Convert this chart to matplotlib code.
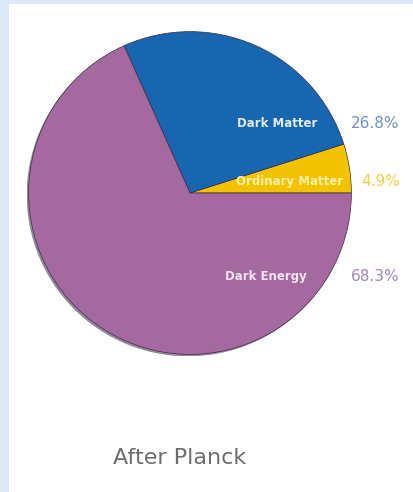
import matplotlib.pyplot as plt
from matplotlib.patches import Rectangle, Circle

# composition of the universe after Planck
components = ["Ordinary Matter", "Dark Matter", "Dark Energy"]
shares = [4.9, 26.8, 68.3]
slice_colors = ["#f3c300", "#1866b0", "#a4699f"]
name_colors = ["#fff2a8", "#e4ecfa", "#f6e4f2"]
pct_colors = ["#f2cf45", "#6f90c6", "#a387b8"]

# where the names and percentages sit (pie radius = 1)
name_pos = [(0.62, 0.07), (0.54, 0.43), (0.47, -0.52)]
pct_y = [0.07, 0.43, -0.52]

fig = plt.figure(figsize=(4.13, 4.92), dpi=100)
fig.patch.set_facecolor("#dce9f8")
fig.patches.append(Rectangle((9 / 413, 0), 1, 1 - 4 / 492, transform=fig.transFigure,
                             facecolor="white", edgecolor="none", zorder=-5))

ax = fig.add_axes([27 / 413, 1 - 356 / 492, 326 / 413, 326 / 492])
ax.set_facecolor("none")
ax.set_zorder(2)

# soft shadow under the left / bottom rim
ax.add_patch(Circle((-0.012, -0.012), 1.0, facecolor="#3a2a44", edgecolor="none",
                    alpha=0.55, zorder=0))

wedges, _ = ax.pie(shares, colors=slice_colors, startangle=0, counterclock=True,
                   wedgeprops=dict(edgecolor="#3c2c48", linewidth=0.5, zorder=1))
ax.set_xlim(-1.01, 1.01)
ax.set_ylim(-1.01, 1.01)
ax.set_aspect("equal")

for name, (x, y), c in zip(components, name_pos, name_colors):
    ax.text(x, y, name, ha="center", va="center", fontsize=8.5, color=c,
            fontweight="semibold", zorder=3)

for share, y, c in zip(shares, pct_y, pct_colors):
    ax.text(1.30, y, f"{share}%", ha="right", va="center", fontsize=11, color=c,
            clip_on=False)

fig.text(180 / 413, 1 - 458 / 492, "After Planck", ha="center", va="center",
         fontsize=16, color="#6e6e6e")

fig.savefig("out.png", dpi=100)
